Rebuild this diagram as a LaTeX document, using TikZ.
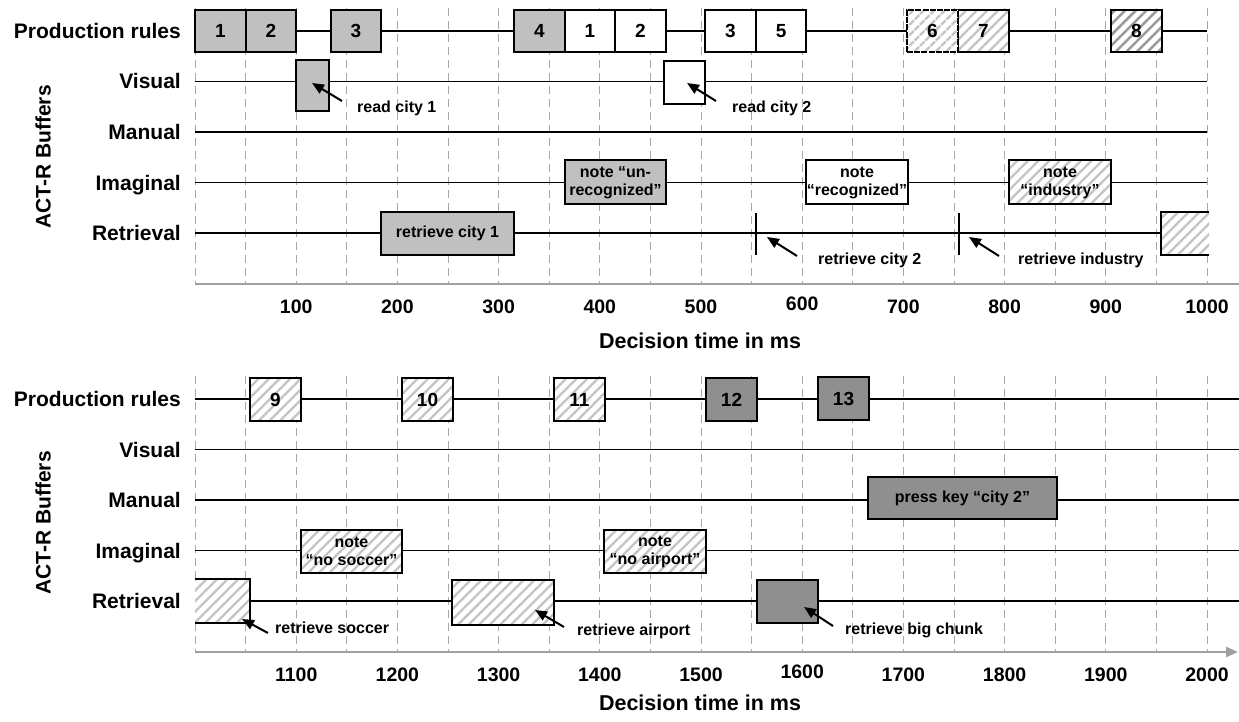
\documentclass[tikz,border=0pt]{standalone}
\usepackage{fontspec}
\setmainfont{Liberation Sans}
\usetikzlibrary{arrows.meta,patterns.meta}
\definecolor{lg}{HTML}{C0C0C0}
\definecolor{dg}{HTML}{8F8F8F}
\definecolor{hl}{HTML}{C4C4C4}
\definecolor{hd}{HTML}{9A9A9A}
\definecolor{gridc}{HTML}{A8A8A8}
\definecolor{axc}{HTML}{A0A0A0}
\tikzset{
  gridl/.style={gridc, line width=1pt, dash pattern=on 8pt off 5pt},
  rowl/.style={black, line width=1.4pt},
  bx/.style={draw=black, line width=2pt, inner sep=0pt, align=center,
    font=\fontsize{19}{20}\selectfont\bfseries},
  lgb/.style={bx, fill=lg},
  dgb/.style={bx, fill=dg},
  wb/.style={bx, fill=white},
  hb/.style={bx, preaction={fill=white},
    pattern={Lines[angle=45,distance=7.5pt,line width=2.3pt]}, pattern color=hl},
  hdb/.style={bx, preaction={fill=white},
    pattern={Lines[angle=45,distance=7.5pt,line width=2.5pt]}, pattern color=hd},
  notef/.style={font=\fontsize{16}{18}\selectfont\bfseries},
  small/.style={font=\fontsize{16}{18}\selectfont\bfseries, inner sep=0pt},
  rowlab/.style={anchor=base east, inner sep=0pt, font=\fontsize{21}{22}\selectfont\bfseries},
  ticklab/.style={anchor=base, inner sep=0pt, font=\fontsize{19.5}{21}\selectfont\bfseries},
  axlab/.style={anchor=base, inner sep=0pt, font=\fontsize{21.5}{23}\selectfont\bfseries},
  ylab/.style={rotate=90, inner sep=0pt, font=\fontsize{21}{23}\selectfont\bfseries},
  arr/.style={line width=2pt, -{Triangle[length=12pt,width=10pt]}},
  tickmark/.style={line width=2pt},
  axline/.style={axc, line width=2.5pt},
}
\begin{document}
\begin{tikzpicture}[x=1pt,y=-1pt]
\useasboundingbox (0,0) rectangle (1239,722);
% ---------------- TOP PANEL ----------------
\foreach \k in {0,...,20}{
  \draw[gridl] ({195+50.6*\k},8) -- ({195+50.6*\k},284);
}
\foreach \y/\n in {31/a,81.5/b,132/c,182.5/d,233/e}{
  \coordinate (ts\n) at (195,\y);
  \coordinate (te\n) at (1207,\y);
  \draw[rowl] (ts\n) -- (te\n);
}
\draw[axline] (195,284) -- (1239,284);
\node[rowlab] (lpr1) at (181,38.5) {Production rules};
\node[rowlab] (lvi1) at (181,89) {Visual};
\node[rowlab] (lma1) at (181,139.5) {Manual};
\node[rowlab] (lim1) at (181,190) {Imaginal};
\node[rowlab] (lre1) at (181,240.5) {Retrieval};
\node[ylab] (yl1) at (43,157) {ACT-R Buffers};
\foreach \k/\l in {1/100,2/200,3/300,4/400,5/500,7/700,8/800,9/900,10/1000}{
  \node[ticklab] (tk\k) at ({195+101.2*\k},313) {\l};
}
\node[ticklab] (tk6) at ({195+101.2*6},310) {600};
\node[axlab] (xt1) at (700,348.5) {Decision time in ms};
% production rules
\node[lgb, minimum width=50.6, minimum height=42] (p1) at (220.3,31) {1};
\node[lgb, minimum width=50.6, minimum height=42] (p2) at (270.9,31) {2};
\node[lgb, minimum width=50.6, minimum height=42] (p3) at (356,31) {3};
\node[lgb, minimum width=50.6, minimum height=42] (p4) at (539.3,31) {4};
\node[wb, minimum width=50.6, minimum height=42] (p1b) at (589.9,31) {1};
\node[wb, minimum width=50.6, minimum height=42] (p2b) at (640.5,31) {2};
\node[wb, minimum width=50.6, minimum height=42] (p3b) at (730.5,31) {3};
\node[wb, minimum width=50.6, minimum height=42] (p5) at (781.1,31) {5};
\node[hb, minimum width=51, minimum height=42] (p7) at (983.5,31) {7};
\node[hb, minimum width=51, minimum height=42, dash pattern=on 6pt off 1.2pt] (p6) at (932.5,31) {6};
\node[hdb, minimum width=51, minimum height=42] (p8) at (1136.5,31) {8};
% visual
\node[lgb, minimum width=33, minimum height=51] (v1) at (312.5,85.5) {};
\node[wb, minimum width=41, minimum height=43] (v2) at (684.5,82.5) {};
\coordinate (a1t) at (342,101); \coordinate (a1h) at (312,83);
\draw[arr] (a1t) -- (a1h);
\node[small, anchor=base west] (l1) at (357,113) {read city 1};
\coordinate (a2t) at (716,101); \coordinate (a2h) at (687,83);
\draw[arr] (a2t) -- (a2h);
\node[small, anchor=base west] (l2) at (732,113) {read city 2};
% imaginal
\node[lgb, notef, minimum width=101, minimum height=44] (i1) at (615.5,182.5) {note “un-\\recognized”};
\node[wb, notef, minimum width=102, minimum height=44] (i2) at (857,182.5) {note\\“recognized”};
\node[hb, notef, minimum width=102, minimum height=44] (i3) at (1060,182.5) {note\\“industry”};
% retrieval
\node[lgb, font=\fontsize{16}{18}\selectfont\bfseries, minimum width=133, minimum height=43] (r1) at (447.5,233.5) {retrieve city 1};
\coordinate (m1a) at (756,213); \coordinate (m1b) at (756,255);
\draw[tickmark] (m1a) -- (m1b);
\coordinate (m2a) at (959,213); \coordinate (m2b) at (959,255);
\draw[tickmark] (m2a) -- (m2b);
\coordinate (a3t) at (797,256); \coordinate (a3h) at (767,237);
\draw[arr] (a3t) -- (a3h);
\node[small, anchor=base west] (l3) at (818,264) {retrieve city 2};
\coordinate (a4t) at (999,256); \coordinate (a4h) at (969,237);
\draw[arr] (a4t) -- (a4h);
\node[small, anchor=base west] (l4) at (1018,264) {retrieve industry};
\fill[white] (1161,212) rectangle (1209,255);
\fill[pattern={Lines[angle=45,distance=7.5pt,line width=2.3pt]}, pattern color=hl] (1161,212) rectangle (1209,255);
\draw[line width=2pt] (1209,212) -- (1161,212) -- (1161,255) -- (1209,255);
% ---------------- BOTTOM PANEL ----------------
\foreach \k in {0,...,20}{
  \draw[gridl] ({195+50.6*\k},376) -- ({195+50.6*\k},652);
}
\foreach \y/\n in {399/a,449.5/b,500/c,550.5/d,601/e}{
  \coordinate (bs\n) at (195,\y);
  \coordinate (be\n) at (1239,\y);
  \draw[rowl] (bs\n) -- (be\n);
}
\draw[axline, -{Triangle[length=12pt,width=10pt]}] (195,652) -- (1238,652);
\node[rowlab] (lpr2) at (181,406.5) {Production rules};
\node[rowlab] (lvi2) at (181,457) {Visual};
\node[rowlab] (lma2) at (181,507.5) {Manual};
\node[rowlab] (lim2) at (181,558) {Imaginal};
\node[rowlab] (lre2) at (181,608.5) {Retrieval};
\node[ylab] (yl2) at (43,523) {ACT-R Buffers};
\foreach \k/\l in {1/1100,2/1200,3/1300,4/1400,5/1500,7/1700,8/1800,9/1900,10/2000}{
  \node[ticklab] (bk\k) at ({195+101.2*\k},681) {\l};
}
\node[ticklab] (bk6) at ({195+101.2*6},678) {1600};
\node[axlab] (xt2) at (700,710.5) {Decision time in ms};
% production rules
\node[hb, minimum width=51, minimum height=43] (p9) at (275.5,399.5) {9};
\node[hb, minimum width=51, minimum height=43] (p10) at (427.5,399.5) {10};
\node[hb, minimum width=51, minimum height=43] (p11) at (579.5,399.5) {11};
\node[dgb, minimum width=51, minimum height=43] (p12) at (731.5,399.5) {12};
\node[dgb, minimum width=51, minimum height=43] (p13) at (843.5,398.5) {13};
% manual
\node[dgb, font=\fontsize{16}{18}\selectfont\bfseries, minimum width=189, minimum height=42] (m1) at (962.5,498) {press key “city 2”};
% imaginal
\node[hb, notef, minimum width=101, minimum height=43] (i4) at (351.5,551.5) {note\\“no soccer”};
\node[hb, notef, minimum width=102, minimum height=43] (i5) at (655,551.5) {note\\“no airport”};
% retrieval
\fill[white] (195,579) rectangle (250,623);
\fill[pattern={Lines[angle=45,distance=7.5pt,line width=2.3pt]}, pattern color=hl] (195,579) rectangle (250,623);
\draw[line width=2pt] (195,579) -- (250,579) -- (250,623) -- (195,623);
\node[hb, minimum width=102, minimum height=45] (r2) at (503,602.5) {};
\node[dgb, minimum width=61, minimum height=43] (r3) at (787.5,601.5) {};
\coordinate (a5t) at (268,633); \coordinate (a5h) at (242,619);
\draw[arr] (a5t) -- (a5h);
\node[small, anchor=base west] (l5) at (275,633) {retrieve soccer};
\coordinate (a6t) at (564,627); \coordinate (a6h) at (535,610);
\draw[arr] (a6t) -- (a6h);
\node[small, anchor=base west] (l6) at (577,635) {retrieve airport};
\coordinate (a7t) at (833,626); \coordinate (a7h) at (804,607);
\draw[arr] (a7t) -- (a7h);
\node[small, anchor=base west] (l7) at (845,634) {retrieve big chunk};
\end{tikzpicture}
\end{document}
